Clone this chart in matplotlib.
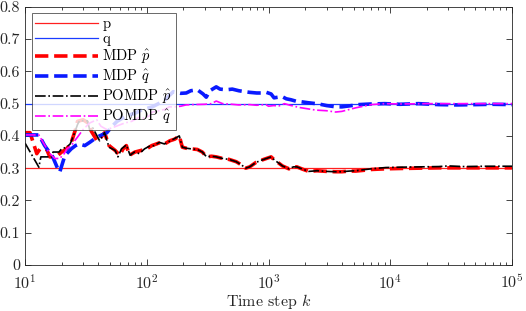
import matplotlib
matplotlib.use('Agg')
import matplotlib.pyplot as plt
from matplotlib.ticker import FixedLocator, FixedFormatter, LogLocator, NullFormatter

plt.rcParams['font.family'] = ['cmr10', 'DejaVu Serif']
plt.rcParams['mathtext.fontset'] = 'cm'
plt.rcParams['axes.formatter.use_mathtext'] = True
plt.rcParams['axes.unicode_minus'] = False

# true parameters
p_true = 0.3
q_true = 0.5

# MDP estimate of p
mdp_p_k = [10, 11, 12.5, 13.3, 15, 16, 18, 20, 22, 24, 26, 27, 30, 33, 35, 37, 39, 41, 45, 49,
           55, 60, 64, 68, 72, 80, 90, 100, 110, 120, 130, 140, 155, 170, 185, 196, 210, 230,
           260, 286, 310, 340, 372, 420, 476, 543, 600, 650, 700, 790, 880, 960, 1050, 1120,
           1220, 1300, 1470, 1600, 1710, 1900, 2140, 2500, 3000, 3500, 4000, 4600, 5200, 6300,
           7000, 8000, 9200, 12000, 17000, 25000, 40000, 60000, 100000]
mdp_p = [0.41, 0.41, 0.345, 0.36, 0.36, 0.335, 0.335, 0.35, 0.36, 0.38, 0.42, 0.445, 0.45, 0.44,
         0.415, 0.40, 0.385, 0.39, 0.41, 0.37, 0.355, 0.34, 0.36, 0.37, 0.34, 0.35, 0.355, 0.36,
         0.37, 0.375, 0.38, 0.375, 0.385, 0.39, 0.40, 0.365, 0.362, 0.36, 0.358, 0.35, 0.335,
         0.337, 0.335, 0.33, 0.327, 0.32, 0.31, 0.30, 0.304, 0.318, 0.325, 0.33, 0.335, 0.325,
         0.315, 0.307, 0.298, 0.304, 0.304, 0.297, 0.29, 0.292, 0.29, 0.289, 0.289, 0.291, 0.291,
         0.294, 0.296, 0.297, 0.298, 0.299, 0.300, 0.301, 0.301, 0.301, 0.301]

# MDP estimate of q
mdp_q_k = [10, 13, 14.5, 16.9, 18.5, 19.3, 20.9, 22, 24, 26, 28, 31, 34, 37, 41, 47, 52, 57, 63,
           72, 80, 90, 100, 111, 125, 140, 153, 165, 175, 190, 211, 230, 260, 290, 308, 330, 372,
           400, 450, 504, 570, 640, 700, 800, 880, 960, 1050, 1110, 1200, 1290, 1400, 1530, 1700,
           1840, 2100, 2580, 3000, 3600, 4000, 4600, 5500, 7000, 9000, 12000, 17000, 25000,
           35000, 50000, 70000, 100000]
mdp_q = [0.403, 0.403, 0.37, 0.335, 0.30, 0.288, 0.33, 0.345, 0.36, 0.37, 0.375, 0.37, 0.38, 0.39,
         0.40, 0.41, 0.43, 0.445, 0.455, 0.465, 0.47, 0.48, 0.485, 0.49, 0.50, 0.51, 0.525, 0.537,
         0.535, 0.532, 0.533, 0.54, 0.543, 0.53, 0.52, 0.54, 0.552, 0.545, 0.543, 0.545, 0.54,
         0.537, 0.535, 0.533, 0.533, 0.535, 0.53, 0.518, 0.52, 0.522, 0.515, 0.512, 0.507, 0.506,
         0.503, 0.499, 0.494, 0.49, 0.49, 0.493, 0.497, 0.499, 0.5, 0.498, 0.5, 0.497, 0.496,
         0.497, 0.498, 0.497]

# POMDP estimate of p
pomdp_p_k = [10, 13, 13.5, 16.5, 17, 19, 20, 22, 23.5, 25, 27, 28, 32.5, 34, 36, 41, 45, 49, 55,
             58, 62, 68, 73, 79, 87, 96, 105, 115, 127, 140, 153, 170, 185, 196, 210, 230, 260,
             286, 310, 340, 372, 420, 476, 543, 600, 650, 700, 790, 880, 960, 1050, 1120, 1220,
             1300, 1470, 1600, 1710, 1900, 2140, 2500, 3000, 3500, 4000, 4600, 5200, 6300, 7000,
             8000, 9200, 12000, 17000, 25000, 30000, 40000, 60000, 100000]
pomdp_p = [0.378, 0.303, 0.335, 0.335, 0.35, 0.35, 0.36, 0.365, 0.375, 0.40, 0.435, 0.447, 0.447,
           0.42, 0.425, 0.385, 0.41, 0.365, 0.355, 0.335, 0.36, 0.372, 0.34, 0.35, 0.345, 0.36,
           0.368, 0.37, 0.38, 0.375, 0.383, 0.392, 0.40, 0.365, 0.362, 0.36, 0.358, 0.35, 0.335,
           0.337, 0.335, 0.33, 0.327, 0.32, 0.31, 0.30, 0.304, 0.318, 0.325, 0.33, 0.335, 0.325,
           0.315, 0.307, 0.298, 0.304, 0.304, 0.297, 0.29, 0.292, 0.29, 0.289, 0.289, 0.291, 0.292,
           0.296, 0.298, 0.300, 0.302, 0.303, 0.304, 0.305, 0.307, 0.305, 0.306, 0.306]

# POMDP estimate of q
pomdp_q_k = [10, 13, 14.6, 16, 17.6, 19.3, 21, 22.1, 24, 25.6, 27.1, 30, 34, 38.8, 42, 46.8, 52,
             59.8, 66, 75, 87, 95, 105, 111, 125, 140, 153, 170, 190, 210, 240, 300, 340, 372,
             420, 500, 570, 700, 800, 950, 1000, 1100, 1220, 1350, 1500, 1800, 2440, 3000, 3560,
             4000, 5200, 6200, 7000, 9000, 12000, 20000, 40000, 100000]
pomdp_q = [0.403, 0.403, 0.37, 0.345, 0.33, 0.33, 0.345, 0.36, 0.37, 0.385, 0.397, 0.42, 0.44,
           0.45, 0.43, 0.42, 0.425, 0.434, 0.44, 0.445, 0.458, 0.455, 0.462, 0.474, 0.478, 0.482,
           0.49, 0.49, 0.492, 0.496, 0.497, 0.498, 0.5, 0.508, 0.5, 0.498, 0.496, 0.497, 0.495,
           0.497, 0.492, 0.494, 0.493, 0.5, 0.495, 0.488, 0.48, 0.478, 0.474, 0.476, 0.487, 0.493,
           0.497, 0.5, 0.499, 0.5, 0.5, 0.5]

y_ticks = [0, 0.1, 0.2, 0.3, 0.4, 0.5, 0.6, 0.7, 0.8]
y_tick_labels = ['0', '0.1', '0.2', '0.3', '0.4', '0.5', '0.6', '0.7', '0.8']

fig = plt.figure(figsize=(5.26, 3.11), dpi=100)
ax = fig.add_axes([0.0475, 0.148, 0.926, 0.83])

ax.axhline(p_true, color='#ff2020', lw=0.9, label='p')
ax.axhline(q_true, color='#1a3cff', lw=0.9, label='q')
ax.plot(mdp_p_k, mdp_p, color='red', lw=2.6, ls='--', label=r'MDP $\hat{p}$')
ax.plot(mdp_q_k, mdp_q, color='#0a1aff', lw=2.6, ls='--', label=r'MDP $\hat{q}$')
ax.plot(pomdp_p_k, pomdp_p, color='black', lw=1.2, ls='-.', label=r'POMDP $\hat{p}$')
ax.plot(pomdp_q_k, pomdp_q, color='#ff00ff', lw=1.2, ls='-.', label=r'POMDP $\hat{q}$')

ax.set_xscale('log')
ax.set_xlim(10, 1e5)
ax.set_ylim(0, 0.8)
ax.yaxis.set_major_locator(FixedLocator(y_ticks))
ax.yaxis.set_major_formatter(FixedFormatter(y_tick_labels))
ax.xaxis.set_major_locator(LogLocator(base=10, numticks=10))
ax.xaxis.set_minor_locator(LogLocator(base=10, subs=range(2, 10), numticks=50))
ax.xaxis.set_minor_formatter(NullFormatter())

ax.tick_params(which='both', direction='in', top=True, right=True, labelsize=11.5,
               colors='#262626', width=0.6)
ax.tick_params(which='major', length=4)
ax.tick_params(which='minor', length=2)
for side in ax.spines.values():
    side.set_color('#262626')
    side.set_linewidth(0.6)
ax.tick_params(axis='x', pad=6)

ax.set_xlabel(r'Time step $k$', fontsize=11.5, color='#262626', labelpad=0)

leg = ax.legend(loc='upper left', fontsize=10.5, handlelength=4.3, frameon=True, fancybox=False,
                edgecolor='#262626', borderpad=0.25, labelspacing=0.12, handletextpad=0.3,
                borderaxespad=0.45)
leg.get_frame().set_linewidth(0.6)

fig.savefig('out.png', dpi=100)
